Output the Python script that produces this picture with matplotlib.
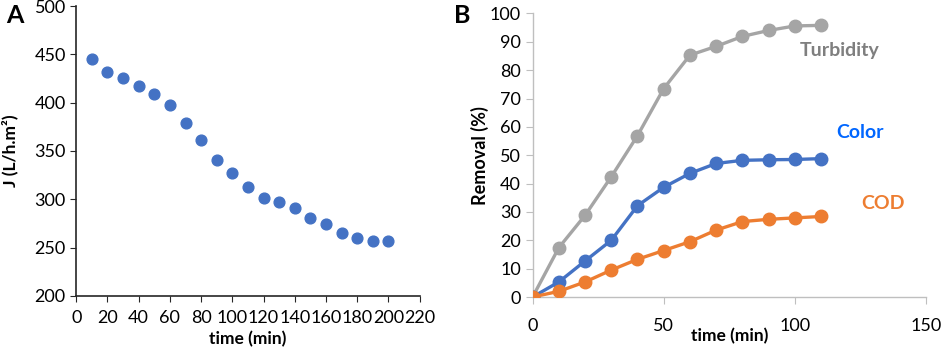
import matplotlib.pyplot as plt

plt.rcParams["font.family"] = ["Lato", "DejaVu Sans"]
plt.rcParams["font.size"] = 13

# Panel A: permeate flux over time
flux_time = [10, 20, 30, 40, 50, 60, 70, 80, 90, 100,
             110, 120, 130, 140, 150, 160, 170, 180, 190, 200]
flux = [445.2, 431.4, 425.5, 417.6, 409.3, 398.0, 379.3, 361.4, 340.7, 327.6,
        313.1, 301.7, 297.6, 291.4, 280.3, 274.5, 265.2, 260.3, 257.2, 256.6]

# Panel B: removal efficiency
removal_time = [0, 10, 20, 30, 40, 50, 60, 70, 80, 90, 100, 110]
turbidity = [0, 17.4, 28.8, 42.4, 56.9, 73.5, 85.3, 88.4, 91.9, 94.0, 95.6, 95.8]
color = [0, 5.3, 12.7, 20.0, 32.2, 38.7, 43.6, 47.1, 48.2, 48.4, 48.5, 48.8]
cod = [0, 2.0, 5.3, 9.5, 13.3, 16.4, 19.5, 23.6, 26.6, 27.4, 27.9, 28.4]

BLUE = "#4472C4"
ORANGE = "#ED7D31"
GRAY = "#A5A5A5"

fig = plt.figure(figsize=(9.41, 3.54), dpi=100)

# ---- A ----
ax1 = fig.add_axes([0.081, 0.164, 0.365, 0.819])
ax1.scatter(flux_time, flux, s=60, color=BLUE, zorder=3)
ax1.set_xlim(0, 220)
ax1.set_ylim(200, 500)
ax1.set_xticks(range(0, 221, 20))
ax1.set_yticks(range(200, 501, 50))
for s in ("top", "right"):
    ax1.spines[s].set_visible(False)
for s in ("left", "bottom"):
    ax1.spines[s].set_color("#262626")
    ax1.spines[s].set_linewidth(1.2)
ax1.tick_params(direction="out", length=4, color="#262626", labelsize=13)
ax1.tick_params(axis="x", pad=6)
ax1.set_xlabel("time (min)", fontweight="bold", fontsize=12.5, labelpad=4)
ax1.set_ylabel("J (L/h.m²)", fontweight="bold", fontsize=12.5)
ax1.yaxis.set_label_coords(-0.17, 0.5)
fig.text(0.007, 0.99, "A", fontsize=18, fontweight="bold", va="top")

# ---- B ----
ax2 = fig.add_axes([0.566, 0.161, 0.418, 0.801])
for y, c in ((turbidity, GRAY), (color, BLUE), (cod, ORANGE)):
    ax2.plot(removal_time, y, color=c, lw=2.4, marker="o", ms=9, zorder=3)
ax2.set_xlim(0, 150)
ax2.set_ylim(0, 100)
ax2.set_xticks([0, 50, 100, 150])
ax2.set_yticks(range(0, 101, 10))
for s in ("top", "right"):
    ax2.spines[s].set_visible(False)
for s in ("left", "bottom"):
    ax2.spines[s].set_color("#BFBFBF")
    ax2.spines[s].set_linewidth(1.0)
ax2.tick_params(direction="out", length=5, color="#BFBFBF", labelsize=13)
ax2.tick_params(axis="x", pad=10)
ax2.set_xlabel("time (min)", fontweight="bold", fontsize=12.5, labelpad=-4)
ax2.set_ylabel("Removal (%)", fontweight="bold", fontsize=13)
ax2.yaxis.set_label_coords(-0.11, 0.5)
ax2.text(117, 87, "Turbidity", color="#7F7F7F", fontweight="bold", fontsize=14, ha="center", va="center")
ax2.text(124.8, 58, "Color", color="#0066FF", fontweight="bold", fontsize=14, ha="center", va="center")
ax2.text(133.6, 33, "COD", color=ORANGE, fontweight="bold", fontsize=14, ha="center", va="center")
fig.text(0.482, 0.99, "B", fontsize=18, fontweight="bold", va="top")

fig.savefig("out.png", dpi=100, facecolor="white")
